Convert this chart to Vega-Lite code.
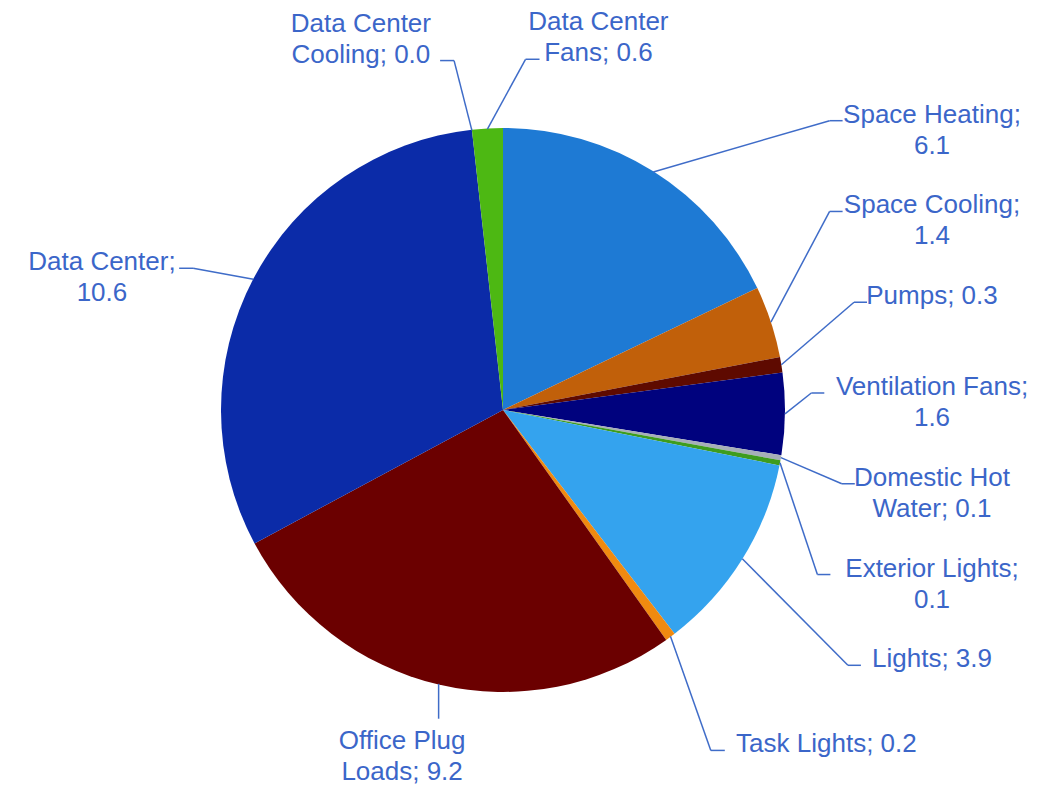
{
  "$schema": "https://vega.github.io/schema/vega-lite/v6.json",
  "width": 1047,
  "height": 785,
  "padding": 0,
  "autosize": {"type": "fit", "contains": "padding"},
  "background": "#ffffff",
  "config": {"view": {"stroke": null}},
  "data": {
    "values": [
      {"category": "Space Heating", "value": 6.1, "label": "Space Heating;\n6.1"},
      {"category": "Space Cooling", "value": 1.4, "label": "Space Cooling;\n1.4"},
      {"category": "Pumps", "value": 0.3, "label": "Pumps; 0.3"},
      {"category": "Ventilation Fans", "value": 1.6, "label": "Ventilation Fans;\n1.6"},
      {"category": "Domestic Hot Water", "value": 0.1, "label": "Domestic Hot\nWater; 0.1"},
      {"category": "Exterior Lights", "value": 0.1, "label": "Exterior Lights;\n0.1"},
      {"category": "Lights", "value": 3.9, "label": "Lights; 3.9"},
      {"category": "Task Lights", "value": 0.2, "label": "Task Lights; 0.2"},
      {"category": "Office Plug Loads", "value": 9.2, "label": "Office Plug\nLoads; 9.2"},
      {"category": "Data Center", "value": 10.6, "label": "Data Center;\n10.6"},
      {"category": "Data Center Cooling", "value": 0.0, "label": "Data Center\nCooling; 0.0"},
      {"category": "Data Center Fans", "value": 0.6, "label": "Data Center\nFans; 0.6"}
    ]
  },
  "transform": [
    {"joinaggregate": [{"op": "sum", "field": "value", "as": "total"}]},
    {"window": [{"op": "sum", "field": "value", "as": "cum"}], "frame": [null, 0], "ignorePeers": true},
    {"calculate": "(datum.cum - datum.value) / datum.total", "as": "a0"},
    {"calculate": "datum.cum / datum.total", "as": "a1"},
    {"calculate": "(datum.a0 + datum.a1) * PI", "as": "mid"},
    {"calculate": "datum.mid * 180 / PI", "as": "deg"},
    {"calculate": "sin(datum.mid)", "as": "sa"},
    {"calculate": "cos(datum.mid)", "as": "ca"},
    {"calculate": "282 * datum.sa", "as": "ax"},
    {"calculate": "282 * datum.ca", "as": "ay"},
    {"calculate": "indexof(datum.label, '\\n')", "as": "nl"},
    {"calculate": "datum.nl < 0 ? length(datum.label) : datum.nl", "as": "fl"},
    {"calculate": "datum.nl < 0 ? length(datum.label) : length(datum.label) - datum.nl - 1", "as": "ll"},
    {"calculate": "datum.nl < 0 ? 1 : 2", "as": "nlines"},
    {"calculate": "datum.fl * 6.1", "as": "hw1"},
    {"calculate": "datum.ll * 6.1", "as": "hwL"},
    {"calculate": "datum.deg >= 20 && datum.deg <= 130 ? 'R' : (datum.deg > 330 || datum.deg < 20) ? 'T' : abs(datum.sa) < 0.3 ? 'B' : 'O'", "as": "grp"},
    {"window": [{"op": "row_number", "as": "gi"}], "groupby": ["grp"], "sort": [{"field": "mid", "order": "ascending"}]},
    {"calculate": "datum.grp == 'R' ? 1 : datum.grp == 'T' ? (datum.gi % 2 == 1 ? -1 : 1) : (datum.sa > 0 ? 1 : -1)", "as": "side"},
    {"calculate": "datum.grp == 'R' ? 290 - 91 * (datum.gi - 1) : datum.grp == 'T' ? datum.ay + 70 : datum.grp == 'B' ? datum.ay - 35 : 1.35 * datum.ay - 35", "as": "ey"},
    {"calculate": "datum.grp == 'R' ? 429 : datum.grp == 'T' ? datum.ax + datum.side * 111 : datum.grp == 'B' ? datum.ax + 160 * datum.sa : 350 * datum.sa + datum.side * (18 + datum.hw1)", "as": "tx"},
    {"calculate": "datum.grp == 'R' ? datum.tx - datum.hw1 - 4 : datum.grp == 'T' ? (datum.side < 0 ? datum.tx + datum.hwL + 6 : datum.tx - datum.hwL - 4) : datum.grp == 'B' ? datum.ax : 350 * datum.sa + datum.side * 14", "as": "kx"},
    {"calculate": "datum.grp == 'R' ? datum.kx - 13 : datum.grp == 'T' ? datum.kx - datum.side * 14 : datum.grp == 'B' ? datum.ax : 350 * datum.sa", "as": "ex"},
    {"calculate": "datum.grp == 'T' ? datum.ey - 2 + 31 * (datum.nlines - 1) : datum.grp == 'B' ? datum.ay - 65 : datum.ey - 2", "as": "tby"}
  ],
  "layer": [
    {
      "mark": {"type": "arc", "outerRadius": 282, "stroke": null},
      "encoding": {
        "x": {"datum": 0, "type": "quantitative", "scale": {"domain": [-503, 544], "nice": false, "zero": false}, "axis": null},
        "y": {"datum": 0, "type": "quantitative", "scale": {"domain": [-374, 411], "nice": false, "zero": false}, "axis": null},
        "theta": {"field": "a0", "type": "quantitative", "scale": {"type": "linear", "domain": [0, 1], "range": [0, 6.283185307179586]}},
        "theta2": {"field": "a1"},
        "color": {
          "field": "category",
          "type": "nominal",
          "legend": null,
          "scale": {
            "domain": ["Space Heating", "Space Cooling", "Pumps", "Ventilation Fans", "Domestic Hot Water", "Exterior Lights", "Lights", "Task Lights", "Office Plug Loads", "Data Center", "Data Center Cooling", "Data Center Fans"],
            "range": ["#1E7AD4", "#C1600A", "#5E0A00", "#00027E", "#A6AFB8", "#3E9C1E", "#34A3EE", "#F08A10", "#6B0000", "#0B2BA8", "#888888", "#4DB813"]
          }
        }
      }
    },
    {
      "mark": {"type": "rule", "color": "#3F6CC8", "strokeWidth": 1.5},
      "encoding": {
        "x": {"field": "ax", "type": "quantitative", "scale": {"domain": [-503, 544], "nice": false, "zero": false}, "axis": null},
        "y": {"field": "ay", "type": "quantitative", "scale": {"domain": [-374, 411], "nice": false, "zero": false}, "axis": null},
        "x2": {"field": "ex"},
        "y2": {"field": "ey"}
      }
    },
    {
      "mark": {"type": "rule", "color": "#3F6CC8", "strokeWidth": 1.5},
      "encoding": {
        "x": {"field": "ex", "type": "quantitative", "scale": {"domain": [-503, 544], "nice": false, "zero": false}, "axis": null},
        "y": {"field": "ey", "type": "quantitative", "scale": {"domain": [-374, 411], "nice": false, "zero": false}, "axis": null},
        "x2": {"field": "kx"},
        "y2": {"field": "ey"}
      }
    },
    {
      "mark": {"type": "text", "align": "center", "baseline": "alphabetic", "font": "Liberation Sans", "fontSize": 26, "lineHeight": 31, "lineBreak": "\n", "color": "#3B66C9"},
      "encoding": {
        "x": {"field": "tx", "type": "quantitative", "scale": {"domain": [-503, 544], "nice": false, "zero": false}, "axis": null},
        "y": {"field": "tby", "type": "quantitative", "scale": {"domain": [-374, 411], "nice": false, "zero": false}, "axis": null},
        "text": {"field": "label", "type": "nominal"}
      }
    }
  ]
}
